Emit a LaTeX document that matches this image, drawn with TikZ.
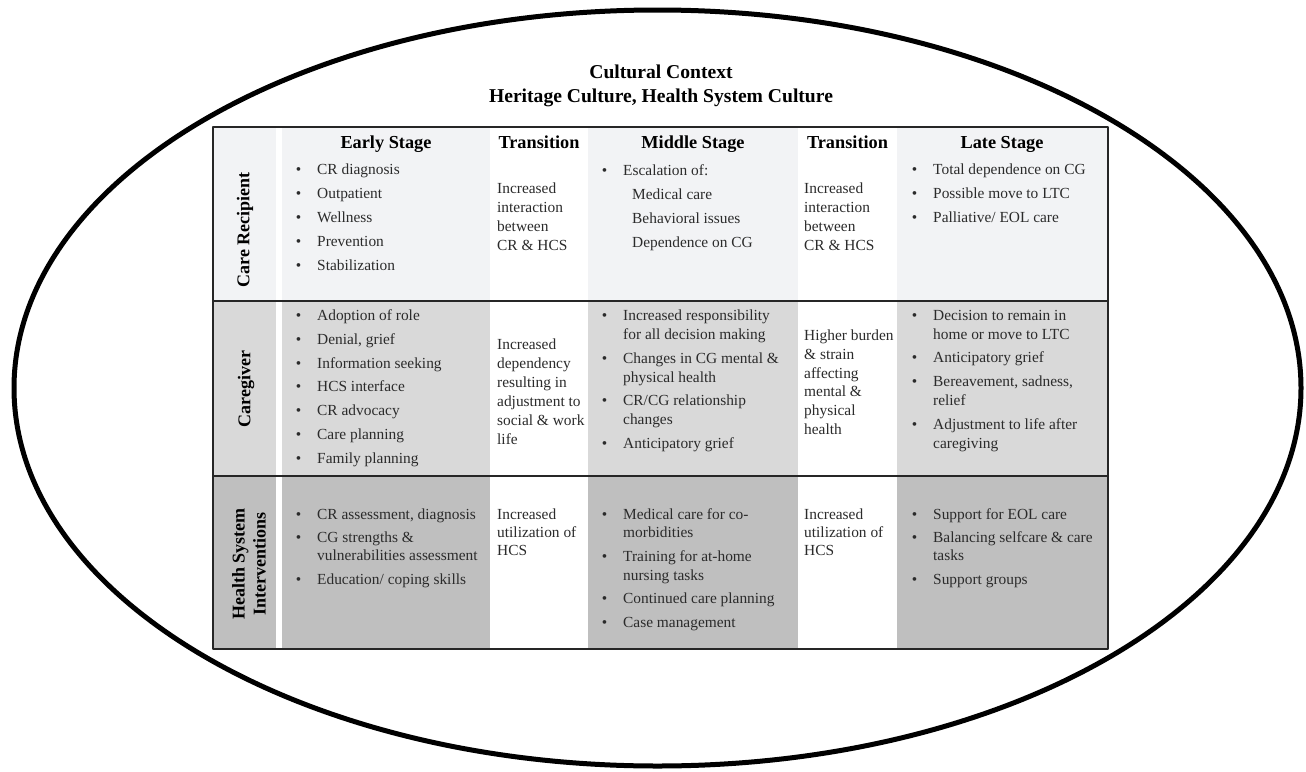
\documentclass[tikz,border=0pt]{standalone}
\usepackage{fontspec}
\setmainfont{Liberation Serif}
\usepackage{xcolor}
\definecolor{ccpale}{HTML}{F2F3F5}
\definecolor{ccmid}{HTML}{D9D9D9}
\definecolor{ccdark}{HTML}{BFBFBF}
\definecolor{ccline}{HTML}{262626}
\definecolor{cctext}{HTML}{2B2B2B}
\usepackage{tikz}
\tikzset{
  every picture/.style={line cap=round, line join=round},
  body/.style={font=\fontsize{15.4}{19}\selectfont, text=cctext, inner sep=0pt, anchor=mid west},
  head/.style={font=\bfseries\fontsize{18.3}{22}\selectfont, inner sep=0pt, anchor=mid},
  rowlbl/.style={font=\bfseries\fontsize{18}{21}\selectfont, inner sep=0pt, rotate=90, align=center},
  ttl/.style={font=\bfseries\fontsize{19.6}{24}\selectfont, inner sep=0pt, anchor=mid},
  rowrule/.style={ccline, line width=2pt},
}
\newcommand{\bul}{\llap{\textbullet\hspace{16pt}}}

\begin{document}
\begin{tikzpicture}[x=1pt, y=-1pt]
\useasboundingbox (0,0) rectangle (1306,771);
% outer context
\draw[line width=5pt] (657.5,388) ellipse [x radius=643.5pt, y radius=378pt];
\node[ttl] (ctx) at (661,76) {Cultural Context};
\node[ttl] (heritage) at (661,100) {Heritage Culture, Health System Culture};
% row shading
\fill[ccpale] (213,127) rectangle (1108,301);
\fill[ccmid] (213,301) rectangle (1108,476);
\fill[ccdark] (213,476) rectangle (1108,649);
\foreach \xa/\xb in {276/282, 490/588, 798/897}
  \fill[white] (\xa,127) rectangle (\xb,649);
\draw[rowrule] (213,301) -- (1108,301);
\draw[rowrule] (213,476) -- (1108,476);
\draw[rowrule] (213,127) rectangle (1108,649);
% row labels
\node[rowlbl] (lblCR) at (245,230) {Care Recipient};
\node[rowlbl] (lblCG) at (246,389) {Caregiver};
\node[rowlbl] (lblHS) at (249,564) {Health System\\Interventions};
% stage headings
\foreach \xx/\txt [count=\i] in {386/Early Stage, 539/Transition, 693/Middle Stage, 847.5/Transition, 1002/Late Stage}
  \node[head] (hd\i) at (\xx,146) {\txt};
% care recipient
\foreach \yy/\txt [count=\i] in {172/CR diagnosis, 196/Outpatient, 220/Wellness, 244/Prevention, 268/Stabilization}
  \node[body] (crE\i) at (317,\yy) {\bul\txt};
\foreach \xx in {497,804}
  \foreach \yy/\txt [count=\i] in {191/Increased, 210/interaction, 229/between, 248/CR \& HCS}
    \node[body] (crT\xx\i) at (\xx,\yy) {\txt};
\node[body] (crM1) at (623,173) {\bul Escalation of:};
\foreach \yy/\txt [count=\i] in {197/Medical care, 221/Behavioral issues, 245/Dependence on CG}
  \node[body] (crM\i x) at (632,\yy) {\txt};
\foreach \yy/\txt [count=\i] in {172/Total dependence on CG, 196/Possible move to LTC, 220/{Palliative/ EOL care}}
  \node[body] (crL\i) at (933,\yy) {\bul\txt};
% caregiver
\foreach \yy/\txt [count=\i] in {318/Adoption of role, 342/{Denial, grief}, 366/Information seeking, 389/HCS interface, 413/CR advocacy, 437/Care planning, 461/Family planning}
  \node[body] (cgE\i) at (317,\yy) {\bul\txt};
\foreach \yy/\txt [count=\i] in {347/Increased, 366/dependency, 385/resulting in, 404/adjustment to, 423/social \& work, 442/life}
  \node[body] (cgT\i) at (497,\yy) {\txt};
\foreach \yy/\txt [count=\i] in {318/\bul Increased responsibility, 337/for all decision making, 361/\bul Changes in CG mental \&, 380/physical health, 403/{\bul CR/CG relationship}, 422/changes, 446/\bul Anticipatory grief}
  \node[body] (cgM\i) at (623,\yy) {\txt};
\foreach \yy/\txt [count=\i] in {338/Higher burden, 357/\& strain, 376/affecting, 394/mental \&, 413/physical, 432/health}
  \node[body] (cgU\i) at (804,\yy) {\txt};
\foreach \yy/\txt [count=\i] in {318/\bul Decision to remain in, 337/home or move to LTC, 360/\bul Anticipatory grief, 384/{\bul Bereavement, sadness,}, 403/relief, 427/\bul Adjustment to life after, 446/caregiving}
  \node[body] (cgL\i) at (933,\yy) {\txt};
% health system interventions
\foreach \yy/\txt [count=\i] in {517/{\bul CR assessment, diagnosis}, 540/\bul CG strengths \&, 558/vulnerabilities assessment, 582/{\bul Education/ coping skills}}
  \node[body] (hsE\i) at (317,\yy) {\txt};
\foreach \xx in {497,804}
  \foreach \yy/\txt [count=\i] in {517/Increased, 535/utilization of, 553/HCS}
    \node[body] (hsT\xx\i) at (\xx,\yy) {\txt};
\foreach \yy/\txt [count=\i] in {517/\bul Medical care for co-, 535/morbidities, 559/\bul Training for at-home, 578/nursing tasks, 601/\bul Continued care planning, 625/\bul Case management}
  \node[body] (hsM\i) at (623,\yy) {\txt};
\foreach \yy/\txt [count=\i] in {517/\bul Support for EOL care, 540/\bul Balancing selfcare \& care, 558/tasks, 582/\bul Support groups}
  \node[body] (hsL\i) at (933,\yy) {\txt};
\end{tikzpicture}
\end{document}
